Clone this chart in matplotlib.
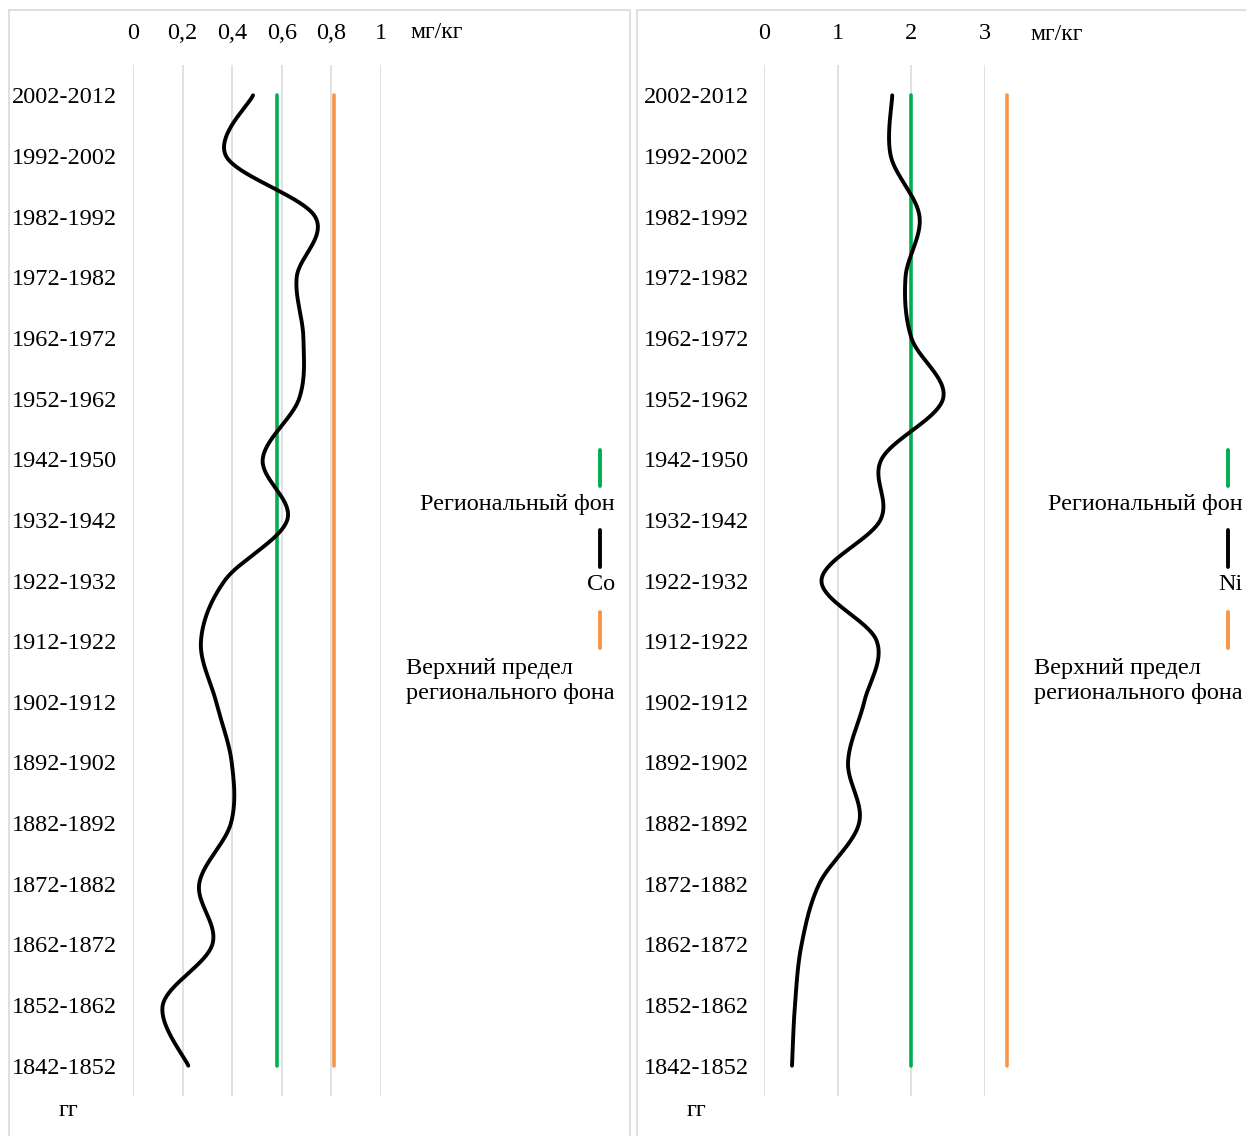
import numpy as np
import matplotlib
matplotlib.use("Agg")
from matplotlib import pyplot as plt
from matplotlib.lines import Line2D
from matplotlib.patches import Rectangle
from matplotlib.ticker import FuncFormatter

plt.rcParams['font.family'] = ['Liberation Serif', 'DejaVu Serif']

periods = ['2002-2012', '1992-2002', '1982-1992', '1972-1982', '1962-1972',
           '1952-1962', '1942-1950', '1932-1942', '1922-1932', '1912-1922',
           '1902-1912', '1892-1902', '1882-1892', '1872-1882', '1862-1872',
           '1852-1862', '1842-1852']

co_values = [0.484, 0.375, 0.734, 0.66, 0.687, 0.67, 0.523, 0.622, 0.37,
             0.274, 0.335, 0.398, 0.395, 0.267, 0.32, 0.12, 0.223]
ni_values = [1.74, 1.72, 2.11, 1.92, 2.00, 2.43, 1.595, 1.58, 0.78,
             1.53, 1.36, 1.14, 1.29, 0.75, 0.51, 0.42, 0.38]

co_background = 0.58
co_upper = 0.81
ni_background = 2.0
ni_upper = 3.3

co_ticks = [0, 0.2, 0.4, 0.6, 0.8, 1]
ni_ticks = [0, 1, 2, 3]

GREEN = '#00b050'
ORANGE = '#f79646'
GRID = '#d9d9d9'
FS = 17.5

W, H = 1246, 1136
fig = plt.figure(figsize=(W / 100, H / 100), dpi=100)


def fx(px):
    return px / W


def fy(py):
    return 1 - py / H


def smooth_curve(ax, values, rows, steps=40):
    # bezier smoothing like the office "smoothed line", done in screen space
    pts = ax.transData.transform(np.column_stack([values, rows]))
    n = len(pts)
    out = []
    t = np.linspace(0, 1, steps)[:, None]
    for i in range(n - 1):
        p0 = pts[max(i - 1, 0)]
        p1 = pts[i]
        p2 = pts[i + 1]
        p3 = pts[min(i + 2, n - 1)]
        c1 = p1 + (p2 - p0) / 6
        c2 = p2 - (p3 - p1) / 6
        seg = ((1 - t) ** 3) * p1 + 3 * ((1 - t) ** 2) * t * c1 \
            + 3 * (1 - t) * t ** 2 * c2 + t ** 3 * p2
        out.append(seg if i == 0 else seg[1:])
    out = np.vstack(out)
    return ax.transData.inverted().transform(out)


def panel(left_px, x0_px, unit_px, xmax, ticks, values, bg, upper, name,
          unit_label_px, leg_x, ypad):
    rows = np.arange(len(periods))
    ax = fig.add_axes([fx(x0_px), fy(1096), xmax * unit_px / W, (1096 - 65) / H])
    ax.set_xlim(0, xmax)
    ax.set_ylim(16.5, -0.5)
    for s in ax.spines.values():
        s.set_visible(False)
    ax.set_facecolor('none')
    ax.xaxis.tick_top()
    ax.set_xticks(ticks)
    ax.xaxis.set_major_formatter(FuncFormatter(lambda v, p: ('%g' % v).replace('.', ',')))
    ax.set_yticks(rows)
    ax.set_yticklabels(periods)
    ax.tick_params(axis='x', length=0, pad=15, labelsize=FS)
    ax.tick_params(axis='y', length=0, pad=ypad, labelsize=FS)
    ax.grid(axis='x', color=GRID, lw=1.1)
    ax.set_axisbelow(True)

    ax.plot([bg, bg], [rows[0], rows[-1]], color=GREEN, lw=2.6, solid_capstyle='round')
    ax.plot([upper, upper], [rows[0], rows[-1]], color=ORANGE, lw=2.6,
            solid_capstyle='round', clip_on=False)
    curve = smooth_curve(ax, values, rows)
    ax.plot(curve[:, 0], curve[:, 1], color='black', lw=2.8,
            solid_capstyle='round', clip_on=False)

    # frame around the panel
    fig.add_artist(Rectangle((fx(left_px), fy(1150)), fx(621), fy(10) - fy(1150),
                             transform=fig.transFigure, fill=False,
                             edgecolor=GRID, lw=1.2))

    fig.text(fx(unit_label_px[0]), fy(unit_label_px[1]), 'мг/кг',
             fontsize=17, ha='left', va='center')
    fig.text(fx(left_px + 59), fy(1111), 'гг', fontsize=FS, ha='center', va='center')

    # legend: short vertical marks above the labels
    for (y0, y1), c in zip([(450, 486), (530, 567), (612, 648)], [GREEN, 'black', ORANGE]):
        fig.add_artist(Line2D([fx(leg_x), fx(leg_x)], [fy(y0), fy(y1)],
                              transform=fig.transFigure, color=c, lw=2.8,
                              solid_capstyle='round'))
    tx = leg_x + 15
    fig.text(fx(tx), fy(504), 'Региональный фон', fontsize=FS, ha='right', va='center')
    fig.text(fx(tx), fy(585), name, fontsize=FS, ha='right', va='center')
    fig.text(fx(tx), fy(681), 'Верхний предел\nрегионального фона', fontsize=FS,
             ha='right', va='center', multialignment='left', linespacing=1.3)
    return ax


panel(9, 133, 248, 1.0, co_ticks, co_values, co_background, co_upper, 'Co',
      (410, 33), 600, 11.5)
panel(637, 764, 73.7, 3.0, ni_ticks, ni_values, ni_background, ni_upper, 'Ni',
      (1030, 35), 1228, 10.8)

fig.savefig('out.png', dpi=100)
